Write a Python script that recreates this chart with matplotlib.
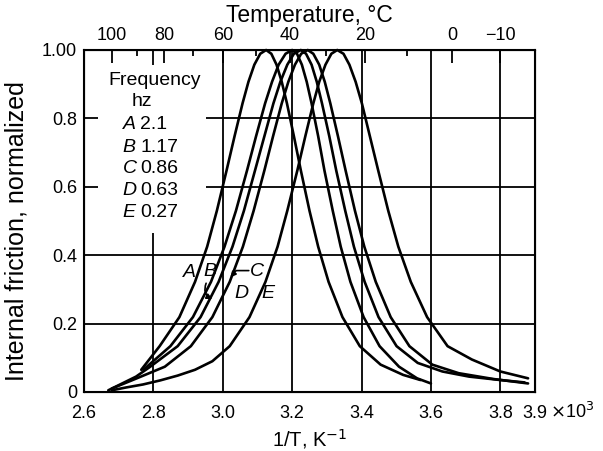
import numpy as np
import matplotlib.pyplot as plt
from matplotlib.patches import Rectangle

plt.rcParams['font.family'] = ['Liberation Sans', 'DejaVu Sans']

# curve data (1/T in 1e-3 K^-1, normalized internal friction)
A_x = [2.765, 2.818, 2.875, 2.920, 2.955, 2.983, 3.011, 3.034, 3.057, 3.074, 3.091, 3.108,
       3.125, 3.14, 3.155, 3.17, 3.185, 3.205, 3.225, 3.25, 3.275, 3.305, 3.345, 3.395,
       3.455, 3.52, 3.57]
A_y = [0.065, 0.134, 0.219, 0.322, 0.425, 0.530, 0.648, 0.748, 0.844, 0.907, 0.957, 0.989,
       1.0, 0.989, 0.957, 0.907, 0.844, 0.748, 0.648, 0.530, 0.425, 0.322, 0.219, 0.134,
       0.080, 0.05, 0.035]

B_x = [2.771, 2.849, 2.914, 2.966, 3.005, 3.038, 3.070, 3.096, 3.122, 3.142, 3.161, 3.181,
       3.20, 3.214, 3.228, 3.242, 3.256, 3.275, 3.293, 3.317, 3.340, 3.368, 3.406, 3.452,
       3.508, 3.56, 3.60]
B_y = [0.065, 0.134, 0.219, 0.322, 0.425, 0.530, 0.648, 0.748, 0.844, 0.907, 0.957, 0.989,
       1.0, 0.989, 0.957, 0.907, 0.844, 0.748, 0.648, 0.530, 0.425, 0.322, 0.219, 0.134,
       0.074, 0.04, 0.025]

C_x = [2.67, 2.70, 2.75, 2.791, 2.870, 2.936, 2.988, 3.028, 3.061, 3.093, 3.120, 3.146,
       3.166, 3.186, 3.205, 3.225, 3.240, 3.256, 3.271, 3.286, 3.307, 3.327, 3.353, 3.378,
       3.409, 3.449, 3.501, 3.562, 3.633, 3.71, 3.80, 3.87]
C_y = [0.005, 0.02, 0.045, 0.074, 0.134, 0.219, 0.322, 0.425, 0.530, 0.648, 0.748, 0.844,
       0.907, 0.957, 0.989, 1.0, 0.989, 0.957, 0.907, 0.844, 0.748, 0.648, 0.530, 0.425,
       0.322, 0.219, 0.134, 0.085, 0.06, 0.045, 0.035, 0.028]

D_x = [2.68, 2.745, 2.833, 2.908, 2.97, 3.02, 3.058, 3.089, 3.12, 3.145, 3.17, 3.189,
       3.208, 3.226, 3.245, 3.261, 3.278, 3.294, 3.310, 3.332, 3.354, 3.381, 3.408, 3.441,
       3.484, 3.538, 3.604, 3.68, 3.78, 3.88]
D_y = [0.01, 0.037, 0.074, 0.134, 0.219, 0.322, 0.425, 0.530, 0.648, 0.748, 0.844, 0.907,
       0.957, 0.989, 1.0, 0.989, 0.957, 0.907, 0.844, 0.748, 0.648, 0.530, 0.425, 0.322,
       0.219, 0.134, 0.08, 0.055, 0.038, 0.025]

E_x = [2.68, 2.72, 2.77, 2.82, 2.87, 2.92, 2.97, 3.020, 3.077, 3.123, 3.158, 3.186, 3.215,
       3.238, 3.261, 3.278, 3.296, 3.313, 3.33, 3.348, 3.365, 3.383, 3.401, 3.424, 3.448,
       3.477, 3.506, 3.542, 3.589, 3.648, 3.718, 3.80, 3.88]
E_y = [0.005, 0.013, 0.022, 0.034, 0.048, 0.065, 0.09, 0.134, 0.219, 0.322, 0.425, 0.530,
       0.648, 0.748, 0.844, 0.907, 0.957, 0.989, 1.0, 0.989, 0.957, 0.907, 0.844, 0.748,
       0.648, 0.530, 0.425, 0.322, 0.219, 0.134, 0.095, 0.06, 0.04]

freq_names = ['A', 'B', 'C', 'D', 'E']
freq_hz = ['2.1', '1.17', '0.86', '0.63', '0.27']

x_ticks = [2.6, 2.8, 3.0, 3.2, 3.4, 3.6, 3.8, 3.9]
x_ticklabels = ['2.6', '2.8', '3.0', '3.2', '3.4', '3.6', '3.8', '3.9']
y_ticks = [0, 0.2, 0.4, 0.6, 0.8, 1.0]
y_ticklabels = ['0', '0.2', '0.4', '0.6', '0.8', '1.00']
temp_major = [100, 80, 60, 40, 20, 0, -10]
temp_minor = [90, 70, 50, 30, 10]

fig = plt.figure(figsize=(6.03, 4.51), dpi=100)
ax = fig.add_axes([84 / 603, 1 - 392 / 451, 451 / 603, 342 / 451])
ax.set_xlim(2.6, 3.9)
ax.set_ylim(0, 1.0)

# grid
for gx in [2.8, 3.0, 3.2, 3.4, 3.6, 3.8]:
    ax.axvline(gx, color='black', lw=1.3, zorder=1)
for gy in [0.2, 0.4, 0.6, 0.8]:
    ax.axhline(gy, color='black', lw=1.3, zorder=1)

# white patch behind the frequency list
ax.add_patch(Rectangle((2.64, 0.465), 0.311, 0.491, facecolor='white',
                       edgecolor='none', zorder=2))

for xs, ys in [(A_x, A_y), (B_x, B_y), (C_x, C_y), (D_x, D_y), (E_x, E_y)]:
    ax.plot(xs, ys, color='black', lw=1.9, zorder=3, clip_on=False,
            solid_capstyle='round', solid_joinstyle='round')

# frequency list
ax.text(2.805, 0.912, 'Frequency', fontsize=14, ha='center', va='center', zorder=4)
ax.text(2.766, 0.848, 'hz', fontsize=14, ha='center', va='center', zorder=4)
row_y = [0.781, 0.716, 0.654, 0.589, 0.524]
for name, f, ry in zip(freq_names, freq_hz, row_y):
    ax.text(2.711, ry, name, fontsize=14, style='italic', ha='left', va='center', zorder=4)
    ax.text(2.762, ry, f, fontsize=14, ha='left', va='center', zorder=4)

# curve labels
lab_pos = [(2.905, 0.348), (2.963, 0.351), (3.099, 0.351), (3.055, 0.289), (3.130, 0.289)]
for name, (lx, ly) in zip(freq_names, lab_pos):
    ax.text(lx, ly, name, fontsize=14, style='italic', ha='center', va='center', zorder=4)
ax.annotate('', xy=(2.970, 0.272), xytext=(2.952, 0.318),
            arrowprops=dict(arrowstyle='-|>', lw=1.2, color='black', mutation_scale=8,
                            connectionstyle='arc3,rad=0.45', shrinkA=0, shrinkB=0))
ax.annotate('', xy=(3.022, 0.335), xytext=(3.075, 0.355),
            arrowprops=dict(arrowstyle='-|>', lw=1.2, color='black', mutation_scale=8,
                            connectionstyle='angle,angleA=0,angleB=50,rad=0',
                            shrinkA=0, shrinkB=0))

ax.set_xticks(x_ticks)
ax.set_xticklabels(x_ticklabels)
ax.set_yticks(y_ticks)
ax.set_yticklabels(y_ticklabels)
ax.tick_params(length=0, labelsize=13)
ax.tick_params(axis='x', pad=9)
ax.tick_params(axis='y', pad=5)
ax.text(3.942, -0.058, r'$\times$10$^3$', fontsize=13, ha='left', va='center')
ax.set_xlabel('1/T, K$^{-1}$', fontsize=14.5, labelpad=4)
ax.set_ylabel('Internal friction, normalized', fontsize=18)
ax.yaxis.set_label_coords(-0.123, 0.47)
for s in ax.spines.values():
    s.set_linewidth(1.5)

# top temperature axis
ax2 = ax.twiny()
ax2.set_xlim(2.6, 3.9)
ax2.set_xticks([1000 / (t + 273.15) for t in temp_major])
ax2.set_xticklabels(['\u2212' + str(-t) if t < 0 else str(t) for t in temp_major])
ax2.set_xticks([1000 / (t + 273.15) for t in temp_minor], minor=True)
ax2.tick_params(axis='x', which='major', direction='in', length=9, width=1.3,
                labelsize=13, pad=4)
ax2.tick_params(axis='x', which='minor', direction='in', length=4, width=1.3)
ax2.set_xlabel('Temperature, \u00b0C', fontsize=16.5, labelpad=4)

fig.savefig('out.png', dpi=100)
